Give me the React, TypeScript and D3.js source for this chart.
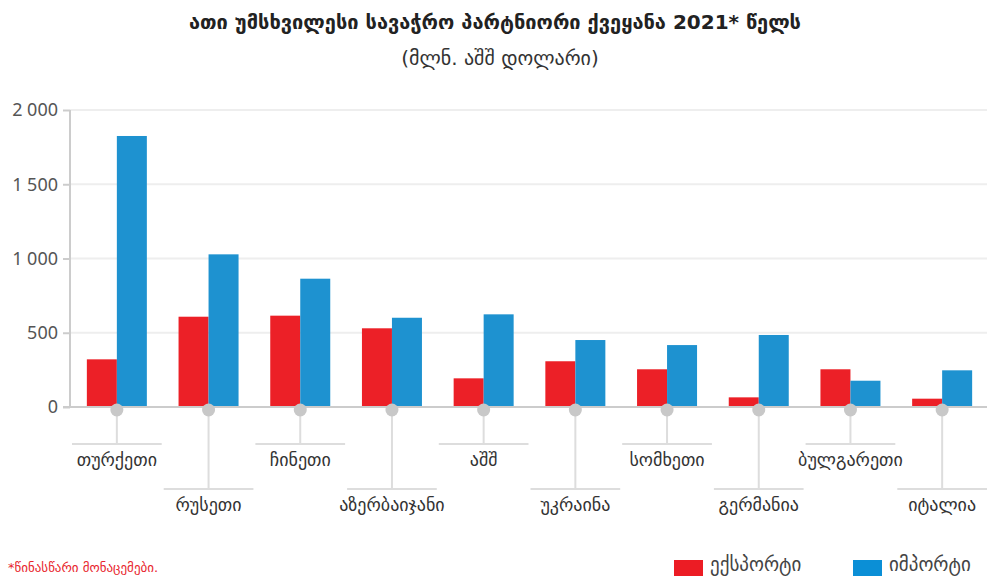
import React, { useEffect, useRef } from 'react';
import * as d3 from 'd3';

const countries = ['თურქეთი', 'რუსეთი', 'ჩინეთი', 'აზერბაიჯანი', 'აშშ', 'უკრაინა', 'სომხეთი', 'გერმანია', 'ბულგარეთი', 'იტალია'];
const exportValues = [321, 608, 615, 530, 193, 308, 254, 65, 254, 56];
const importValues = [1825, 1028, 864, 601, 624, 451, 417, 485, 177, 247];
const seriesNames = ['ექსპორტი', 'იმპორტი'];
const yTicks = [0, 500, 1000, 1500, 2000];

const title = 'ათი უმსხვილესი სავაჭრო პარტნიორი ქვეყანა 2021* წელს';
const subtitle = '(მლნ. აშშ დოლარი)';
const footnote = '*წინასწარი მონაცემები.';

const colors = ['#ec2027', '#1e92d0'];
const font = '"DejaVu Sans", sans-serif';

const App = () => {
    const svgRef = useRef<SVGSVGElement>(null);

    useEffect(() => {
        const svg = d3.select(svgRef.current);
        svg.selectAll('*').remove();

        const width = 987;
        const left = 70, top = 110, bottom = 407;

        const x0 = d3.scaleBand().domain(countries).range([71, 988]).padding(0);
        const x1 = d3.scaleBand().domain(seriesNames).range([0, 60]);
        const y = d3.scaleLinear().domain([0, 2000]).range([bottom, top]);

        const fmt = d3.formatLocale({ decimal: ',', thousands: '\u00a0', grouping: [3], currency: ['', ''] }).format(',d');

        // title
        svg.append('text')
            .attr('x', 495).attr('y', 29)
            .attr('text-anchor', 'middle')
            .attr('font-family', font).attr('font-weight', 'bold').attr('font-size', 20)
            .attr('fill', '#222')
            .text(title);
        svg.append('text')
            .attr('x', 500).attr('y', 65)
            .attr('text-anchor', 'middle')
            .attr('font-family', font).attr('font-size', 20)
            .attr('fill', '#333')
            .text(subtitle);

        // grid lines
        svg.append('g').selectAll('line')
            .data(yTicks.filter(d => d > 0))
            .enter().append('line')
            .attr('x1', left).attr('x2', width)
            .attr('y1', d => y(d)).attr('y2', d => y(d))
            .attr('stroke', '#eeeeee').attr('stroke-width', 2);

        // y axis
        const yAxis = svg.append('g')
            .attr('transform', 'translate(' + left + ',0)')
            .call(d3.axisLeft(y).tickValues(yTicks).tickFormat(d => fmt(d as number)).tickSize(7).tickPadding(5));
        yAxis.select('.domain').attr('stroke', '#cccccc').attr('stroke-width', 2).attr('d', 'M0,' + top + 'V' + bottom);
        yAxis.selectAll('.tick line').attr('stroke', '#cccccc').attr('stroke-width', 2);
        yAxis.selectAll('.tick text')
            .attr('font-family', '"Noto Sans", sans-serif').attr('font-size', 18).attr('fill', '#555');

        // bars
        const groups = svg.append('g').selectAll('g')
            .data(countries)
            .enter().append('g')
            .attr('transform', d => 'translate(' + (x0(d)! + (x0.bandwidth() - 60) / 2) + ',0)');

        groups.selectAll('rect')
            .data((d, i) => [
                { key: seriesNames[0], value: exportValues[i] },
                { key: seriesNames[1], value: importValues[i] }
            ])
            .enter().append('rect')
            .attr('x', d => x1(d.key)!)
            .attr('y', d => y(d.value))
            .attr('width', x1.bandwidth())
            .attr('height', d => bottom - y(d.value))
            .attr('fill', (d, i) => colors[i]);

        // baseline
        svg.append('line')
            .attr('x1', left - 7).attr('x2', width)
            .attr('y1', bottom).attr('y2', bottom)
            .attr('stroke', '#cccccc').attr('stroke-width', 2);

        // leader lines and labels
        const leaders = svg.append('g').selectAll('g')
            .data(countries)
            .enter().append('g');

        const levelY = (i: number) => (i % 2 === 0 ? 444 : 489);
        const cx = (d: string) => x0(d)! + x0.bandwidth() / 2;

        leaders.append('line')
            .attr('x1', d => cx(d)).attr('x2', d => cx(d))
            .attr('y1', bottom + 3).attr('y2', (d, i) => levelY(i))
            .attr('stroke', '#dddddd').attr('stroke-width', 2);
        leaders.append('line')
            .attr('x1', d => x0(d)! + 1).attr('x2', d => x0(d)! + x0.bandwidth() - 1)
            .attr('y1', (d, i) => levelY(i)).attr('y2', (d, i) => levelY(i))
            .attr('stroke', '#dddddd').attr('stroke-width', 2);
        leaders.append('circle')
            .attr('cx', d => cx(d)).attr('cy', bottom + 3)
            .attr('r', 6.5)
            .attr('fill', '#c8c8c8');
        leaders.append('text')
            .attr('x', d => cx(d))
            .attr('y', (d, i) => levelY(i) + 22)
            .attr('text-anchor', 'middle')
            .attr('font-family', font).attr('font-size', 18)
            .attr('fill', '#333')
            .text(d => d);

        // footnote
        svg.append('text')
            .attr('x', 8).attr('y', 572)
            .attr('font-family', font).attr('font-size', 13)
            .attr('fill', '#e8252c')
            .text(footnote);

        // legend
        const legendX = [674, 853];
        const legend = svg.append('g').selectAll('g')
            .data(seriesNames)
            .enter().append('g')
            .attr('transform', (d, i) => 'translate(' + legendX[i] + ',560)');
        legend.append('rect')
            .attr('width', 29).attr('height', 16)
            .attr('fill', (d, i) => (i === 0 ? '#ec1c24' : '#0b8fd6'));
        legend.append('text')
            .attr('x', 36).attr('y', 11)
            .attr('font-family', font).attr('font-size', 19)
            .attr('fill', '#444')
            .text(d => d);
    }, []);

    return (
        <svg ref={svgRef} width={987} height={577}
            style={{ position: 'absolute', left: 0, top: 0, background: '#fff' }} />
    );
};

export default App;
